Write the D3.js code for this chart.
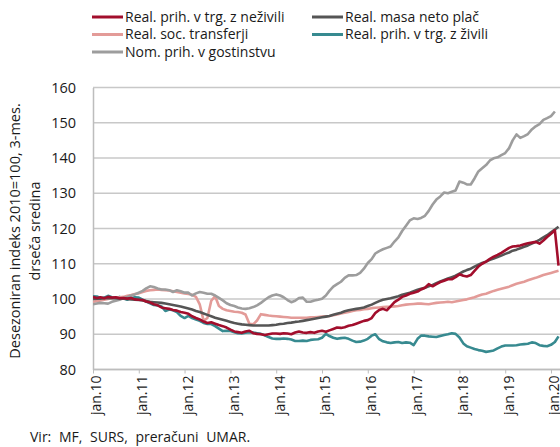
<!DOCTYPE html>
<html>
<head>
<meta charset="utf-8">
<script src="https://cdn.jsdelivr.net/npm/d3@7"></script>
<style>
  body { margin: 0; background: #fff; }
  svg { font-family: "Open Sans", sans-serif; }
</style>
</head>
<body>
<svg width="560" height="447"></svg>
<script>
// Series, monthly from jan.2010 (3-month moving average, 2010=100)
var nezivili = [
  100.6,100.3,100.5,100.2,100.6,100.4,100.5,100.2,100.3,100.1,100.3,99.9,
  99.8,99.7,99.3,99.0,98.5,98.2,97.6,97.4,97.2,96.9,96.7,96.3,
  96.1,95.8,95.1,94.6,94.2,93.6,93.2,93.4,93.0,92.6,92.3,91.9,
  91.3,90.8,90.6,90.4,90.8,91.0,90.3,90.1,90.0,89.8,90.0,90.2,
  90.2,90.1,90.3,90.2,90.0,90.5,90.8,90.5,90.4,90.6,90.4,90.8,
  91.0,90.7,91.1,91.5,91.9,91.8,92.0,92.4,92.6,93.0,93.4,93.8,
  94.0,94.6,96.0,96.9,97.2,96.8,97.9,99.1,99.8,100.6,101.0,101.5,
  101.8,102.1,102.7,103.2,104.2,103.6,104.2,104.8,105.2,105.6,105.6,106.2,
  107.0,106.6,106.4,106.8,108.0,109.2,110.0,110.6,111.4,112.0,112.5,113.1,
  113.8,114.5,114.9,115.0,115.2,115.5,115.8,116.0,116.2,115.7,116.6,117.6,
  118.5,119.5,109.5
];
var masa = [
  100.0,100.1,100.1,100.2,100.2,100.2,100.2,100.1,100.1,100.0,99.9,99.8,
  99.7,99.6,99.4,99.2,99.1,99.0,98.9,98.7,98.5,98.3,98.1,97.9,
  97.6,97.3,97.0,96.6,96.3,95.9,95.5,95.1,94.7,94.4,94.1,93.8,
  93.5,93.2,93.0,92.8,92.7,92.6,92.5,92.5,92.5,92.5,92.5,92.6,
  92.7,92.9,93.0,93.2,93.3,93.5,93.6,93.8,94.0,94.2,94.4,94.6,
  94.8,95.0,95.2,95.5,95.8,96.1,96.5,96.8,97.0,97.2,97.4,97.6,
  98.0,98.4,98.9,99.4,99.8,100.0,100.2,100.5,100.8,101.2,101.5,101.8,
  102.2,102.6,102.9,103.2,103.6,104.0,104.5,105.0,105.4,105.8,106.2,106.6,
  107.2,107.8,108.2,108.6,109.2,109.7,110.2,110.6,111.1,111.5,111.9,112.3,
  112.8,113.2,113.7,114.0,114.4,114.8,115.2,115.7,116.2,116.8,117.5,118.1,
  118.9,119.7,120.5
];
var soc = [
  99.2,99.4,99.6,99.8,100.0,100.2,100.4,100.5,100.6,100.9,101.1,101.4,
  101.6,102.0,102.3,102.5,102.6,102.7,102.6,102.5,102.4,102.2,102.0,101.8,
  101.6,101.4,101.2,100.6,98.5,93.8,94.6,99.5,100.8,98.0,97.2,96.8,
  96.6,96.4,96.3,96.1,95.6,93.0,92.8,93.9,95.7,95.5,95.3,95.2,
  95.1,95.0,94.9,94.8,94.7,94.7,94.7,94.7,94.7,94.8,94.8,94.9,
  95.0,95.1,95.2,95.4,95.6,95.9,96.1,96.3,96.6,96.8,96.9,97.1,
  97.2,97.4,97.5,97.6,97.7,97.8,97.8,97.9,98.0,98.2,98.4,98.5,
  98.6,98.7,98.7,98.6,98.5,98.7,98.9,99.0,99.1,99.2,99.1,99.3,
  99.5,99.7,99.9,100.2,100.5,100.9,101.3,101.5,101.9,102.3,102.6,102.9,
  103.2,103.5,103.9,104.3,104.6,104.9,105.3,105.7,106.0,106.4,106.8,107.1,
  107.4,107.7,108.0
];
var zivili = [
  100.8,100.7,100.3,100.4,100.9,100.5,100.3,100.6,100.2,99.8,100.3,100.5,
  100.4,99.8,99.3,98.8,98.3,98.2,97.9,96.6,97.0,96.8,96.3,95.2,
  94.6,95.2,94.6,94.2,93.8,93.2,92.9,92.9,92.3,91.6,90.9,91.0,
  90.9,90.6,90.3,90.2,90.4,90.6,90.5,90.3,90.1,89.7,89.2,88.8,
  88.7,88.7,88.8,88.7,88.5,88.1,88.1,88.2,88.1,88.4,88.5,88.6,
  89.0,90.1,89.5,89.0,88.7,88.9,89.0,88.7,88.2,87.8,87.9,88.2,
  88.7,89.6,90.0,88.6,88.0,87.7,87.5,87.7,87.8,87.5,87.7,87.6,
  86.9,88.7,89.6,89.6,89.4,89.3,89.2,89.5,89.8,90.0,90.3,90.1,
  89.1,87.4,86.6,86.2,85.8,85.5,85.3,85.0,85.2,85.4,86.0,86.5,
  86.8,86.8,86.8,86.9,87.1,87.2,87.3,87.7,87.5,86.9,86.7,86.6,
  87.0,87.8,89.4
];
var gost = [
  98.5,98.7,98.9,98.8,98.7,99.2,99.5,99.8,100.3,100.6,101.0,101.3,
  101.8,102.3,103.0,103.6,103.4,103.0,102.7,102.7,102.5,102.0,102.5,102.2,
  101.8,101.8,101.0,101.6,102.0,101.8,101.5,101.5,101.0,100.3,99.6,98.8,
  98.3,98.0,97.6,97.3,97.2,97.4,97.7,98.2,98.9,99.7,100.5,101.0,
  101.3,101.0,100.5,99.7,99.1,99.5,100.3,100.4,99.2,99.2,99.6,99.8,
  100.1,101.0,102.3,103.5,104.2,104.9,106.0,106.7,106.7,106.8,107.4,108.6,
  110.2,111.3,112.9,113.6,114.1,114.5,114.9,116.3,117.5,119.3,120.8,122.3,
  122.9,122.7,123.0,123.6,125.0,126.8,128.2,129.1,130.2,130.0,130.4,130.8,
  133.3,133.0,132.5,132.5,134.2,136.2,137.1,138.0,139.3,139.9,140.2,140.8,
  141.4,142.8,145.0,146.7,145.7,146.2,146.8,148.1,149.0,149.6,150.8,151.3,
  151.9,153.2
];

var yTicks = [80, 90, 100, 110, 120, 130, 140, 150, 160];
var tickYears = d3.range(2010, 2021);

var series = [
  {name: "Real. prih. v trg. z neživili", values: nezivili, color: "#a20e2c"},
  {name: "Real. masa neto plač", values: masa, color: "#555555"},
  {name: "Real. soc. transferji", values: soc, color: "#e39b98"},
  {name: "Real. prih. v trg. z živili", values: zivili, color: "#378a90"},
  {name: "Nom. prih. v gostinstvu", values: gost, color: "#9d9d9d"}
];

var svg = d3.select("svg"),
    plotLeft = 93, plotTop = 87.5, plotBottom = 369.5, plotRight = 562;

var x = d3.scaleTime()
    .domain([new Date(2010, 0, 1), new Date(2020, 0, 1)])
    .range([plotLeft, 551]);

var y = d3.scaleLinear()
    .domain([80, 160])
    .range([plotBottom, plotTop]);

// gridlines
svg.append("g")
  .selectAll("line")
  .data(yTicks)
  .enter()
  .append("line")
    .attr("x1", plotLeft)
    .attr("x2", plotRight)
    .attr("y1", function(d){ return y(d) })
    .attr("y2", function(d){ return y(d) })
    .attr("stroke", "#c8c8c8")
    .attr("stroke-width", 1.3);

// y axis
var yAxis = svg.append("g")
    .attr("transform", "translate(" + plotLeft + ",0)")
    .call(d3.axisLeft(y).tickValues(yTicks).tickSize(0).tickPadding(17));
yAxis.select(".domain").attr("stroke", "#bdbdbd").attr("stroke-width", 1.5);
yAxis.selectAll("text").attr("font-size", 14.5).attr("fill", "#1a1a1a")
    .attr("font-family", "Open Sans, sans-serif");

// x axis
var xAxis = svg.append("g")
    .attr("transform", "translate(0," + plotBottom + ")")
    .call(d3.axisBottom(x)
      .tickValues(tickYears.map(function(yr){ return new Date(yr, 0, 1) }))
      .tickFormat(function(d){ return "jan." + d3.timeFormat("%y")(d) })
      .tickSize(4));
xAxis.select(".domain").attr("stroke", "#bdbdbd").attr("stroke-width", 1.5)
    .attr("d", "M" + plotLeft + ",0H" + plotRight);
xAxis.selectAll(".tick line").attr("stroke", "#bdbdbd");
xAxis.selectAll("text")
    .attr("font-size", 14)
    .attr("fill", "#1a1a1a")
    .attr("font-family", "Open Sans, sans-serif")
    .attr("text-anchor", "end")
    .attr("transform", "rotate(-90)")
    .attr("x", -6)
    .attr("y", 3)
    .attr("dy", "0.35em");

// lines
var startDate = new Date(2010, 0, 1);
var line = d3.line()
    .x(function(d, i){ return x(d3.timeMonth.offset(startDate, i)) })
    .y(function(d){ return y(d) });

svg.append("defs").append("clipPath").attr("id", "clip")
  .append("rect").attr("x", plotLeft).attr("y", 0).attr("width", 600).attr("height", plotBottom);

var order = [3, 2, 4, 1, 0];
svg.append("g").attr("clip-path", "url(#clip)")
  .selectAll("path")
  .data(order.map(function(i){ return series[i] }))
  .enter()
  .append("path")
    .attr("d", function(d){ return line(d.values) })
    .attr("fill", "none")
    .attr("stroke", function(d){ return d.color })
    .attr("stroke-width", 2.6)
    .attr("stroke-linejoin", "round");

// legend
var legendPos = [[92, 17], [312, 17], [92, 34.5], [312, 34.5], [92, 52]];
var legend = svg.append("g")
  .selectAll("g")
  .data(series)
  .enter()
  .append("g")
    .attr("transform", function(d, i){ return "translate(" + legendPos[i][0] + "," + legendPos[i][1] + ")" });
legend.append("line")
    .attr("x1", 0).attr("x2", 31)
    .attr("stroke", function(d){ return d.color })
    .attr("stroke-width", 3);
legend.append("text")
    .attr("x", 33)
    .attr("dy", "0.35em")
    .attr("font-size", 14)
    .attr("fill", "#1a1a1a")
    .text(function(d){ return d.name });

// y axis title
var yTitle = svg.append("text")
    .attr("transform", "translate(0,231) rotate(-90)")
    .attr("text-anchor", "middle")
    .attr("font-size", 14.5)
    .attr("fill", "#1a1a1a");
yTitle.append("tspan").attr("x", 0).attr("y", 20).text("Desezoniran indeks 2010=100, 3-mes.");
yTitle.append("tspan").attr("x", 0).attr("y", 40).text("drseča sredina");

// source
svg.append("text")
    .attr("x", 30)
    .attr("y", 442)
    .attr("font-size", 14)
    .attr("word-spacing", 4)
    .attr("fill", "#1a1a1a")
    .text("Vir: MF, SURS, preračuni UMAR.");
</script>
</body>
</html>
